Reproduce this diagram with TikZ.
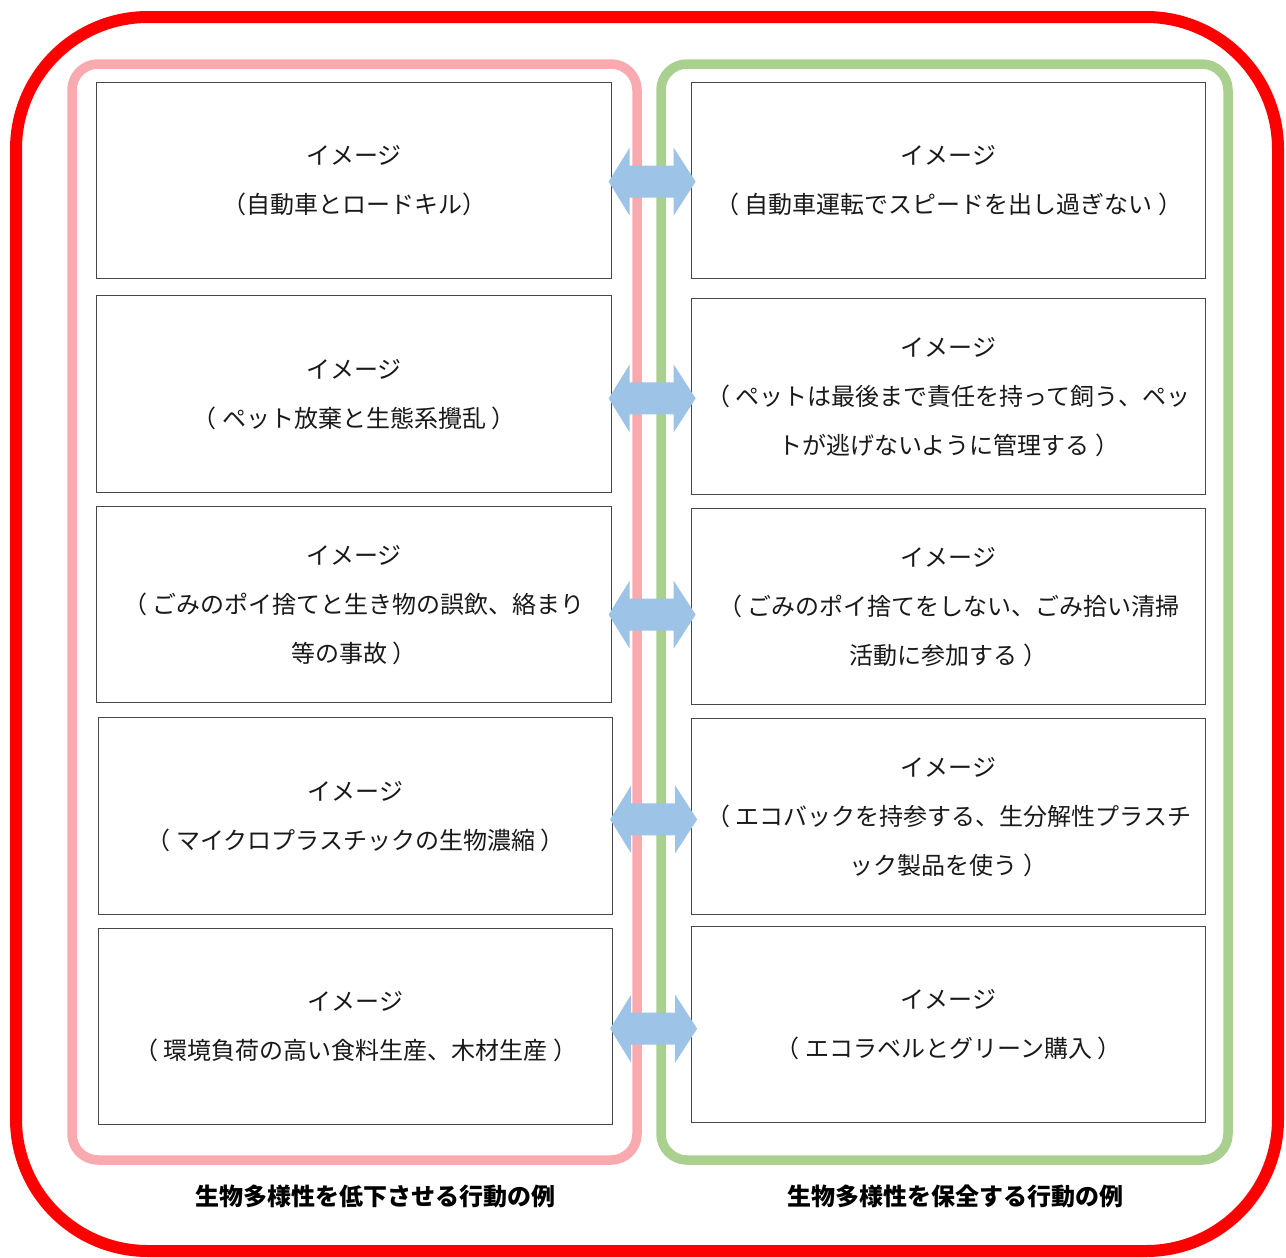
\documentclass[tikz,border=0pt]{standalone}
\usepackage{fontspec}
\newfontfamily\jp{Noto Sans CJK JP}
\usetikzlibrary{calc}
\definecolor{outerred}{RGB}{255,0,0}
\definecolor{panelpink}{RGB}{248,170,174}
\definecolor{panelgreen}{RGB}{169,208,142}
\definecolor{arrowblue}{RGB}{157,195,230}
\tikzset{
  imgbox/.style={draw=black!72, line width=1.3pt, fill=white, anchor=north west, inner sep=0pt,
    font={\jp\fontsize{24}{49}\selectfont}, align=center, text=black!90},
  panel/.style={line width=9.5pt, rounded corners=26pt},
  caption/.style={font={\jp\bfseries\fontsize{24}{28}\selectfont}, text=black}
}
\newcommand{\boxat}[6]{% name, x1, y1, x2, y2, text
  \node[imgbox, minimum width={#4-#2}, minimum height={#5-#3}] (#1) at (#2,#3) {#6};}
\newcommand{\dblarrow}[1]{%
  \fill[arrowblue] ($(#1)+(-43,0)$) -- ++(21,-34) -- ++(0,18) -- ++(44,0) -- ++(0,-18)
    -- ++(22,34) -- ++(-22,34) -- ++(0,-18) -- ++(-44,0) -- ++(0,18) -- cycle;}
\begin{document}
\begin{tikzpicture}[x=1pt,y=-1pt]
\useasboundingbox (0,0) rectangle (1286,1258);
\fill[white] (0,0) rectangle (1286,1258);
% outer frame
\draw[outerred, line width=12pt, rounded corners=132pt] (16,17) rectangle (1278,1251);
% panels
\draw[panel, panelpink] (72,64) rectangle (637,1160);
\draw[panel, panelgreen] (661,64) rectangle (1228,1160);
% left boxes
\boxat{L1}{96}{82}{611}{278}{イメージ\\（自動車とロードキル）}
\boxat{L2}{96}{295}{611}{492}{イメージ\\（ ペット放棄と生態系攪乱 ）}
\boxat{L3}{96}{506}{611}{702}{イメージ\\（ ごみのポイ捨てと生き物の誤飲、絡まり\\等の事故 ）}
\boxat{L4}{98}{717}{612}{914}{イメージ\\（ マイクロプラスチックの生物濃縮 ）}
\boxat{L5}{98}{928}{612}{1124}{イメージ\\（ 環境負荷の高い食料生産、木材生産 ）}
% right boxes
\boxat{R1}{691}{82}{1205}{278}{イメージ\\（ 自動車運転でスピードを出し過ぎない ）}
\boxat{R2}{691}{298}{1205}{494}{イメージ\\（ ペットは最後まで責任を持って飼う、ペッ\\トが逃げないように管理する ）}
\boxat{R3}{691}{508}{1205}{704}{イメージ\\（ ごみのポイ捨てをしない、ごみ拾い清掃\\活動に参加する ）}
\boxat{R4}{691}{718}{1205}{914}{イメージ\\（ エコバックを持参する、生分解性プラスチ\\ック製品を使う ）}
\boxat{R5}{691}{926}{1205}{1122}{イメージ\\（ エコラベルとグリーン購入 ）}
% arrows between boxes
\coordinate (A1) at ($($(L1.east)!0.5!(R1.west)$)+(0,1)$);
\coordinate (A2) at ($($(L2.east)!0.5!(R2.west)$)+(0,3)$);
\coordinate (A3) at ($($(L3.east)!0.5!(R3.west)$)+(0,9)$);
\coordinate (A4) at ($($(L4.east)!0.5!(R4.west)$)+(1,3)$);
\coordinate (A5) at ($($(L5.east)!0.5!(R5.west)$)+(1,3)$);
\dblarrow{A1}
\dblarrow{A2}
\dblarrow{A3}
\dblarrow{A4}
\dblarrow{A5}
% captions
\node[caption] (capL) at (375,1196) {生物多様性を低下させる行動の例};
\node[caption] (capR) at (955,1196) {生物多様性を保全する行動の例};
\end{tikzpicture}
\end{document}
